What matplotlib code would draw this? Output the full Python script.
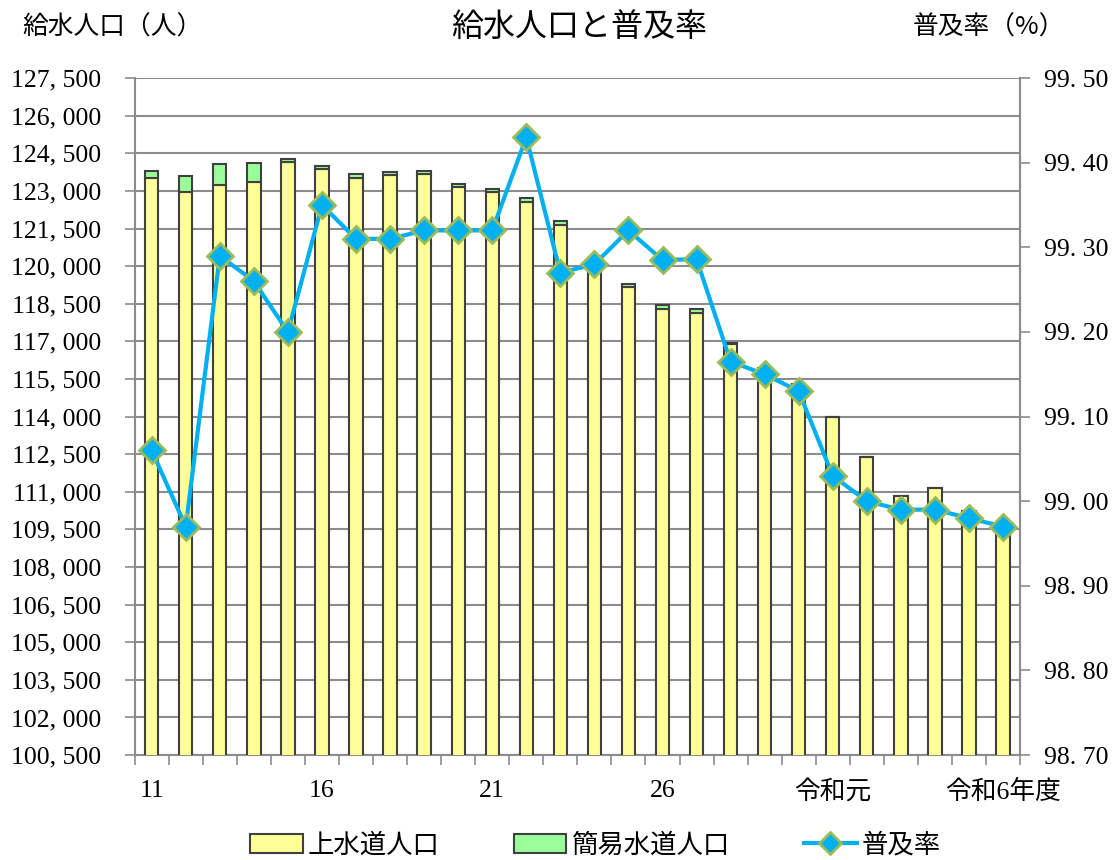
import matplotlib
matplotlib.use("Agg")
import matplotlib.pyplot as plt
from matplotlib.patches import Patch
from matplotlib.lines import Line2D
from matplotlib.ticker import FixedLocator, FuncFormatter

plt.rcParams['font.family'] = ['Liberation Serif', 'Noto Sans CJK JP', 'DejaVu Sans']

# fiscal years: 平成11..30, 令和元..6
years = ['11', '12', '13', '14', '15', '16', '17', '18', '19', '20',
         '21', '22', '23', '24', '25', '26', '27', '28', '29', '30',
         '令和元', '2', '3', '4', '5', '令和6年度']
tick_labels = ['11', '16', '21', '26', '令和元', '令和6年度']
tick_pos = [0, 5, 10, 15, 20, 25]

# 上水道人口 (people)
josuido = [123520, 122940, 123230, 123350, 124140, 123860, 123500, 123620, 123660, 123160,
           122950, 122550, 121650, 120050, 119170, 118310, 118140, 116880, 115940, 115280,
           113990, 112380, 110830, 111170, 110220, 109550]
# 簡易水道人口 (people)
kani = [270, 650, 840, 770, 130, 140, 160, 130, 140, 135,
        130, 150, 145, 100, 135, 160, 135, 60, 0, 0,
        0, 0, 0, 0, 0, 0]
# 普及率 (%)
fukyu = [99.06, 98.97, 99.29, 99.26, 99.20, 99.35, 99.31, 99.31, 99.32, 99.32,
         99.32, 99.43, 99.27, 99.28, 99.32, 99.285, 99.286, 99.165, 99.15, 99.13,
         99.03, 99.00, 98.99, 98.99, 98.98, 98.97]

yellow = '#FFFF99'
green = '#99FF99'
edge = '#404040'
blue = '#00B0F0'
olive = '#9BBB59'
grid_gray = '#8C8C8C'

fig = plt.figure(figsize=(11.13, 8.6), dpi=100)
ax = fig.add_axes([0.121, 0.122, 0.7955, 0.7872])

x = list(range(len(years)))
ax.bar(x, josuido, width=0.39, color=yellow, edgecolor=edge, linewidth=1.5, zorder=3)
ax.bar(x, kani, width=0.39, bottom=josuido, color=green, edgecolor=edge, linewidth=1.5, zorder=3)

ax.set_xlim(-0.5, len(years) - 0.5)
ax.set_ylim(100500, 127500)
ax.yaxis.set_major_locator(FixedLocator(range(100500, 127501, 1500)))
ax.yaxis.set_major_formatter(FuncFormatter(lambda v, p: f"{int(v):,}".replace(',', ', ')))
ax.grid(axis='y', color=grid_gray, linewidth=1.5, zorder=0)

# x ticks on category boundaries, labels at every 5th year
ax.set_xticks([i - 0.5 for i in range(len(years) + 1)])
ax.set_xticklabels([])
ax.set_xticks(tick_pos, minor=True)
ax.set_xticklabels(tick_labels, minor=True, fontsize=18.5)
ax.tick_params(axis='x', which='minor', length=0, pad=18)
ax.tick_params(axis='x', which='major', length=7, color=grid_gray, width=1.2)
ax.tick_params(axis='y', length=7, color=grid_gray, width=1.2, labelsize=18.5, pad=17)

ax.spines['top'].set_visible(False)
for s in ['left', 'bottom', 'right']:
    ax.spines[s].set_color(grid_gray)
    ax.spines[s].set_linewidth(1.5)

ax2 = ax.twinx()
ax2.plot(x, fukyu, color=blue, linewidth=3, marker='D', markersize=13,
         markerfacecolor=blue, markeredgecolor=olive, markeredgewidth=2, zorder=5)
ax2.set_ylim(98.70, 99.50)
ax2.yaxis.set_major_locator(FixedLocator([98.7 + 0.1 * i for i in range(9)]))
ax2.yaxis.set_major_formatter(FuncFormatter(lambda v, p: f"{v:.2f}".replace('.', '. ')))
ax2.tick_params(axis='y', length=7, color=grid_gray, width=1.2, labelsize=18.5, pad=10)
for s in ['top', 'left', 'bottom']:
    ax2.spines[s].set_visible(False)
ax2.spines['right'].set_color(grid_gray)
ax2.spines['right'].set_linewidth(1.5)

fig.text(0.52, 0.968, '給水人口と普及率', ha='center', va='center', fontsize=23,
         family=['Noto Sans CJK JP'])
fig.text(0.02, 0.968, '給水人口（人）', ha='left', va='center', fontsize=18.5,
         family=['Noto Sans CJK JP'])
fig.text(0.957, 0.968, '普及率（%）', ha='right', va='center', fontsize=18.5,
         family=['Noto Sans CJK JP'])

handles = [Patch(facecolor=yellow, edgecolor=edge, linewidth=1.5),
           Patch(facecolor=green, edgecolor=edge, linewidth=1.5),
           Line2D([0], [0], color=blue, linewidth=3, marker='D', markersize=11,
                  markerfacecolor=blue, markeredgecolor=olive, markeredgewidth=2)]
fig.legend(handles, ['上水道人口', '簡易水道人口', '普及率'], loc='lower center',
           bbox_to_anchor=(0.535, -0.026), ncol=3, frameon=False,
           columnspacing=2.8, handlelength=2.0, handletextpad=0.2,
           prop={'family': ['Noto Sans CJK JP'], 'size': 19})

fig.savefig('out.png', dpi=100)
